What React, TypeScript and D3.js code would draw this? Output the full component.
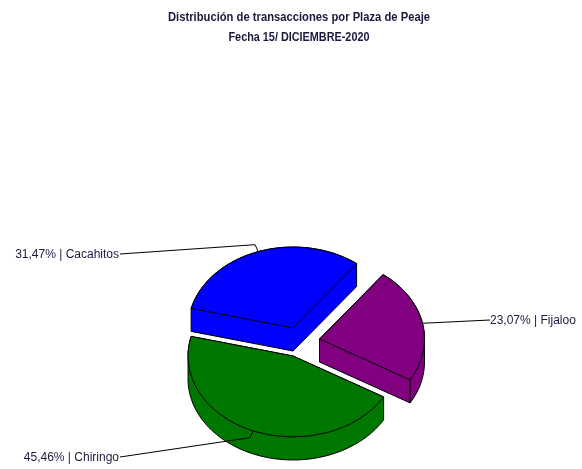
import React, { useEffect, useRef } from "react";
import * as d3 from "d3";

const plazas = ["Cacahitos", "Fijaloo", "Chiringo"];
const shares = [31.47, 23.07, 45.46];
const shareLabels = ["31,47%", "23,07%", "45,46%"];
const titleLines = ["Distribución de transacciones por Plaza de Peaje", "Fecha 15/ DICIEMBRE-2020"];
const sliceColors = ["#0000ff", "#800080", "#007800"];

const App: React.FC = () => {
  const svgRef = useRef<SVGSVGElement>(null);

  useEffect(() => {
    const width = 582;
    const height = 469;
    const rx = 105;
    const ry = 81;
    const depth = 23;
    const startAngle = (-76 * Math.PI) / 180;

    // exploded centre of every slice and where its label line ends
    const centers = [
      [293, 328],
      [319.5, 339],
      [293, 356],
    ];
    const labelEnds = [
      [120, 254],
      [490, 320],
      [120, 457],
    ];
    const titleWidths = [262, 141];

    const svg = d3.select(svgRef.current).attr("width", width).attr("height", height);
    svg.selectAll("*").remove();

    const root = svg.append("g");
    const labels = svg.append("g");

    const pie = d3
      .pie<number>()
      .sort(null)
      .value(d => d)
      .startAngle(startAngle)
      .endAngle(startAngle + 2 * Math.PI);
    const arcs = pie(shares);

    const pt = (a: number, k = 1): [number, number] => [rx * k * Math.sin(a), -ry * k * Math.cos(a)];

    const sector = d3
      .arc<d3.PieArcDatum<number>>()
      .innerRadius(0)
      .outerRadius(rx);

    arcs.forEach((d, i) => {
      const [cx, cy] = centers[i];
      const g = root.append("g").attr("transform", `translate(${cx},${cy})`);

      const top: [number, number][] = [[0, 0]];
      d3.range(0, 41).forEach(s => {
        top.push(pt(d.startAngle + ((d.endAngle - d.startAngle) * s) / 40));
      });
      const hull = d3.polygonHull(top.concat(top.map(p => [p[0], p[1] + depth] as [number, number])));

      g.append("path")
        .attr("d", `M${hull!.join("L")}Z`)
        .attr("fill", sliceColors[i])
        .attr("stroke", "#000")
        .attr("stroke-width", 1);

      g.append("path")
        .attr("d", sector(d))
        .attr("transform", `scale(1,${ry / rx})`)
        .attr("fill", sliceColors[i])
        .attr("stroke", "#000")
        .attr("stroke-width", 1)
        .style("vector-effect", "non-scaling-stroke");

      // vertical edge where the cut face meets the rim (only the purple one shows it)
      if (i === 1) {
        const e = pt(d.endAngle);
        g.append("line")
          .attr("x1", e[0])
          .attr("y1", e[1])
          .attr("x2", e[0])
          .attr("y2", e[1] + depth)
          .attr("stroke", "#000");
      }

      // leader line
      const mid = (d.startAngle + d.endAngle) / 2;
      const p0 = pt(mid);
      const p1 = pt(mid, 1.09);
      const end = labelEnds[i];
      const line = d3.line();
      const pts: [number, number][] =
        i === 1
          ? [[cx + p0[0], cy + p0[1]], [end[0], end[1]]]
          : [[cx + p0[0], cy + p0[1]], [cx + p1[0], cy + p1[1]], [end[0], end[1]]];
      root
        .append("path")
        .attr("d", line(pts))
        .attr("fill", "none")
        .attr("stroke", "#000")
        .attr("stroke-width", 1);
    });

    // labels drawn after every slice
    arcs.forEach((d, i) => {
      const end = labelEnds[i];
      labels
        .append("text")
        .attr("x", i === 1 ? end[0] : end[0] - 1)
        .attr("y", end[1] + 4)
        .attr("text-anchor", i === 1 ? "start" : "end")
        .attr("font-family", "'Liberation Sans', sans-serif")
        .attr("font-size", 12)
        .attr("fill", "#1a1a40")
        .text(`${shareLabels[i]} | ${plazas[i]}`);
    });

    labels
      .selectAll(".title")
      .data(titleLines)
      .enter()
      .append("text")
      .attr("class", "title")
      .attr("x", 299)
      .attr("y", (_, i) => 21 + i * 20)
      .attr("text-anchor", "middle")
      .attr("textLength", (_, i) => titleWidths[i])
      .attr("lengthAdjust", "spacingAndGlyphs")
      .attr("font-family", "'Liberation Sans', sans-serif")
      .attr("font-weight", "bold")
      .attr("font-size", 13)
      .attr("fill", "#1a1a40")
      .text(d => d);
  }, []);

  return (
    <svg
      ref={svgRef}
      style={{ position: "absolute", left: 0, top: 0, background: "#fff", filter: "blur(0.6px)" }}
    ></svg>
  );
};

export default App;
